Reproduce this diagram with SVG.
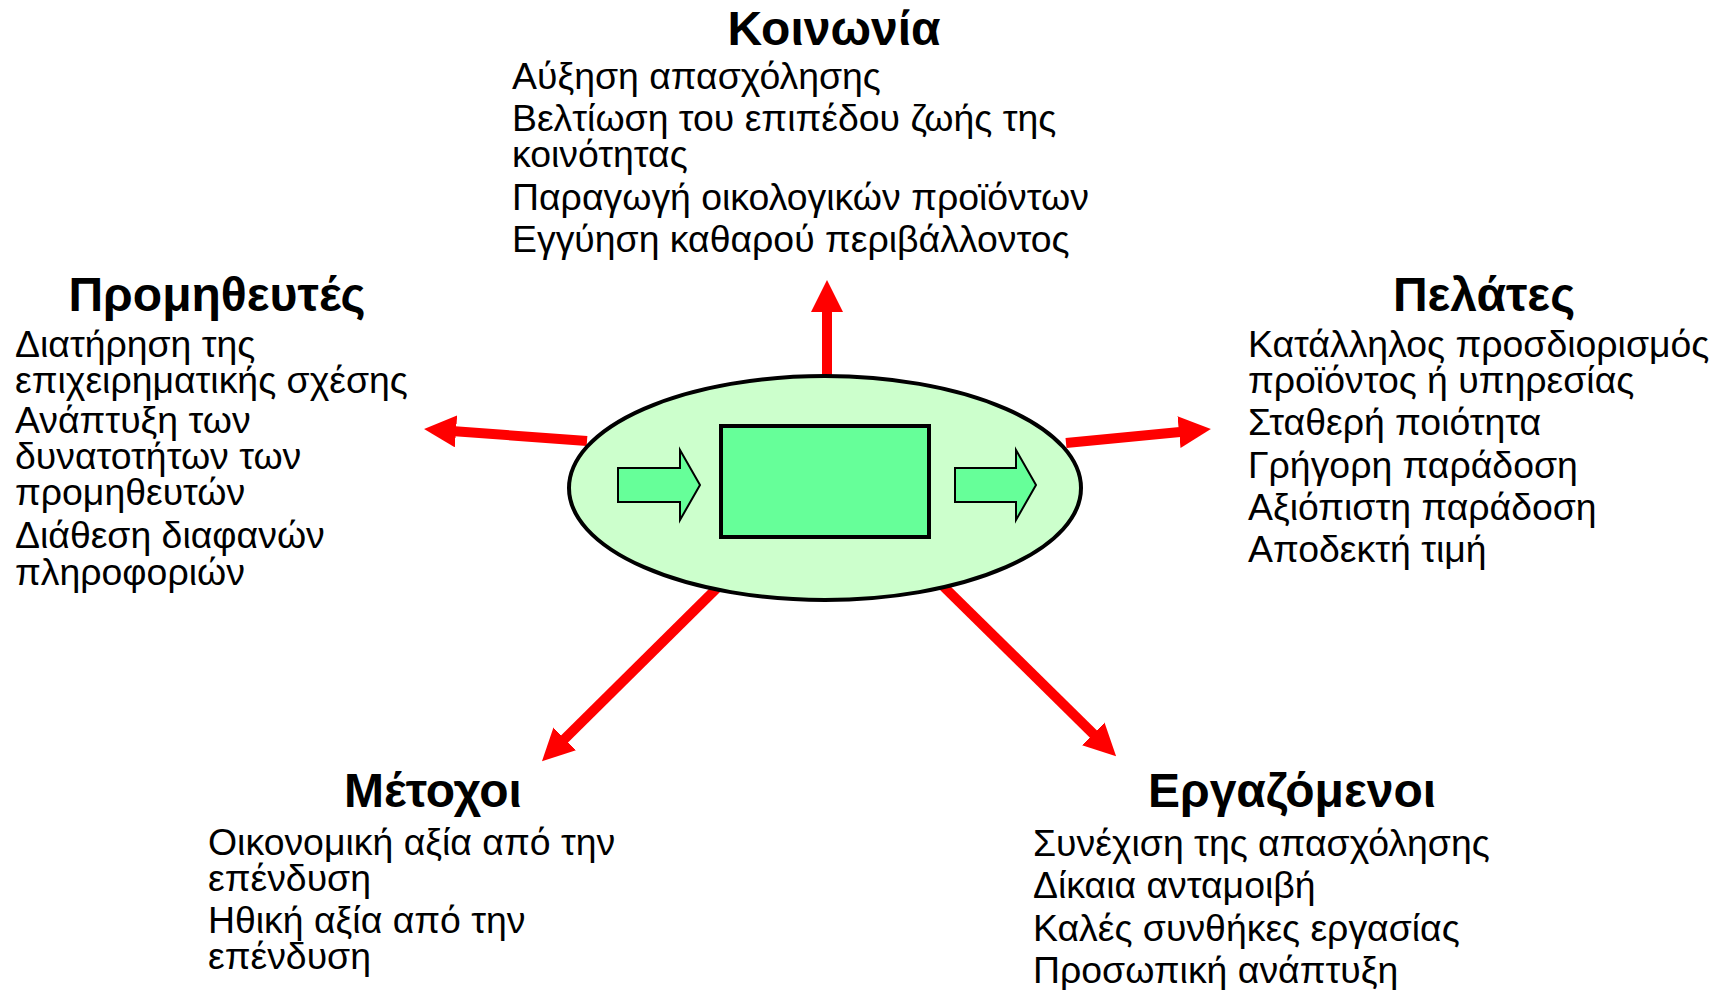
<svg xmlns="http://www.w3.org/2000/svg" width="1727" height="990" viewBox="0 0 1727 990">
<style>
.h{font-family:"Liberation Sans",Arial,sans-serif;font-weight:bold;font-size:48px;fill:#000;text-anchor:middle}
.t{font-family:"Liberation Sans",Arial,sans-serif;font-size:37.4px;fill:#000}
.red{stroke:#FF0000;stroke-width:10;fill:none;marker-end:url(#ah)}
.sa{fill:#66FF99;stroke:#000;stroke-width:2;stroke-linejoin:miter}
</style>
<defs>
<marker id="ah" markerUnits="userSpaceOnUse" markerWidth="34" markerHeight="34" refX="1" refY="16" orient="auto">
<path d="M0,0 L32,16 L0,32 z" fill="#FF0000"/>
</marker>
</defs>
<rect width="1727" height="990" fill="#fff"/>
<g id="connectors">
<line class="red" x1="827" y1="376" x2="827" y2="311"/>
<line class="red" x1="587" y1="441" x2="455" y2="431.3"/>
<line class="red" x1="1066" y1="443" x2="1180" y2="432"/>
<line class="red" x1="717" y1="588" x2="564" y2="739.5"/>
<line class="red" x1="940" y1="583" x2="1094" y2="734.6"/>
</g>
<g id="center">
<ellipse cx="825" cy="488" rx="256" ry="112" fill="#CCFFCC" stroke="#000" stroke-width="4"/>
<rect x="721" y="426" width="208" height="111" fill="#66FF99" stroke="#000" stroke-width="4"/>
<path class="sa" d="M618,468 H680 V450 L700,485 L680,520 V502 H618 Z"/>
<path class="sa" d="M955,468 H1016 V450 L1036,485 L1016,520 V502 H955 Z"/>
</g>
<g id="koinonia">
<text class="h" x="834" y="45">Κοινωνία</text>
<text class="t"><tspan x="512" y="89">Αύξηση απασχόλησης</tspan><tspan x="512" y="131">Βελτίωση του επιπέδου ζωής της</tspan><tspan x="512" y="167">κοινότητας</tspan><tspan x="512" y="210">Παραγωγή οικολογικών προϊόντων</tspan><tspan x="512" y="252">Εγγύηση καθαρού περιβάλλοντος</tspan></text>
</g>
<g id="promitheftes">
<text class="h" x="217" y="311">Προμηθευτές</text>
<text class="t"><tspan x="15" y="357">Διατήρηση της</tspan><tspan x="15" y="393">επιχειρηματικής σχέσης</tspan><tspan x="15" y="433">Ανάπτυξη των</tspan><tspan x="15" y="469">δυνατοτήτων των</tspan><tspan x="15" y="505">προμηθευτών</tspan><tspan x="15" y="548">Διάθεση διαφανών</tspan><tspan x="15" y="585">πληροφοριών</tspan></text>
</g>
<g id="pelates">
<text class="h" x="1484" y="311">Πελάτες</text>
<text class="t"><tspan x="1248" y="357">Κατάλληλος προσδιορισμός</tspan><tspan x="1248" y="393">προϊόντος ή υπηρεσίας</tspan><tspan x="1248" y="435">Σταθερή ποιότητα</tspan><tspan x="1248" y="478">Γρήγορη παράδοση</tspan><tspan x="1248" y="520">Αξιόπιστη παράδοση</tspan><tspan x="1248" y="562">Αποδεκτή τιμή</tspan></text>
</g>
<g id="metochoi">
<text class="h" x="433" y="807">Μέτοχοι</text>
<text class="t"><tspan x="208" y="855">Οικονομική αξία από την</tspan><tspan x="208" y="891">επένδυση</tspan><tspan x="208" y="933">Ηθική αξία από την</tspan><tspan x="208" y="969">επένδυση</tspan></text>
</g>
<g id="ergazomenoi">
<text class="h" x="1292" y="807">Εργαζόμενοι</text>
<text class="t"><tspan x="1033" y="856">Συνέχιση της απασχόλησης</tspan><tspan x="1033" y="898">Δίκαια ανταμοιβή</tspan><tspan x="1033" y="941">Καλές συνθήκες εργασίας</tspan><tspan x="1033" y="983">Προσωπική ανάπτυξη</tspan></text>
</g>
</svg>
